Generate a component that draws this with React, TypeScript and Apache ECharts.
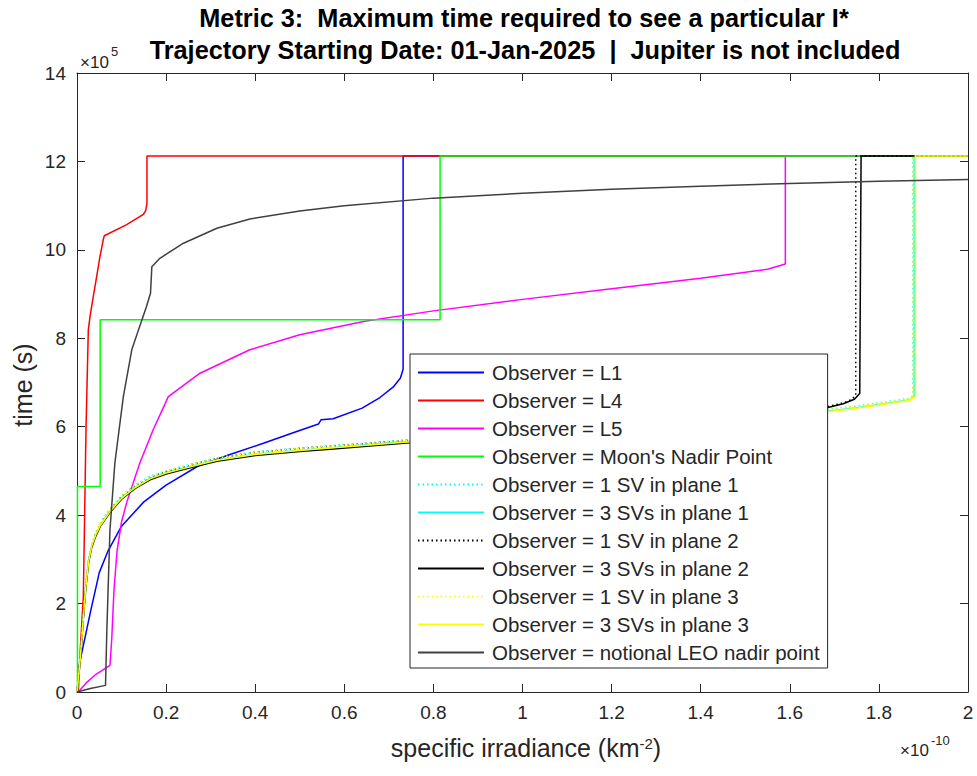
import React, { useEffect, useRef } from 'react';
import * as echarts from 'echarts';

const FONT = '"Liberation Sans", Arial, sans-serif';
const AXIS_COLOR = '#262626';

const xTickLabels = ['0', '0.2', '0.4', '0.6', '0.8', '1', '1.2', '1.4', '1.6', '1.8', '2'];
const yTickLabels = ['0', '2', '4', '6', '8', '10', '12', '14'];

const seriesNames = [
  'Observer = L1',
  'Observer = L4',
  'Observer = L5',
  "Observer = Moon's Nadir Point",
  'Observer = 1 SV in plane 1',
  'Observer = 3 SVs in plane 1',
  'Observer = 1 SV in plane 2',
  'Observer = 3 SVs in plane 2',
  'Observer = 1 SV in plane 3',
  'Observer = 3 SVs in plane 3',
  'Observer = notional LEO nadir point',
];

// x in units of 1e-10 km^-2, y in units of 1e5 s
const dataL1: [number, number][] = [
  [0.002, 0.45], [0.01, 0.85], [0.03, 1.8], [0.05, 2.7], [0.07, 3.2], [0.1, 3.75], [0.15, 4.3],
  [0.2, 4.68], [0.27, 5.1], [0.34, 5.36], [0.42, 5.63], [0.49, 5.88], [0.542, 6.06], [0.548, 6.16],
  [0.575, 6.18], [0.64, 6.42], [0.68, 6.66], [0.71, 6.9], [0.726, 7.1], [0.732, 7.3], [0.732, 12.12], [2, 12.12],
];
const dataL4: [number, number][] = [
  [0.003, 0], [0.007, 0.9], [0.011, 1.6], [0.0142, 2.16], [0.0202, 5.93], [0.0254, 8.19], [0.0292, 8.49],
  [0.0366, 8.95], [0.0442, 9.4], [0.0516, 9.85], [0.059, 10.23], [0.0613, 10.32], [0.1116, 10.57],
  [0.1488, 10.8], [0.154, 10.88], [0.157, 11.05], [0.157, 12.12], [2, 12.12],
];
const dataL5: [number, number][] = [
  [0.003, 0], [0.02, 0.2], [0.04, 0.38], [0.074, 0.6], [0.078, 1.2], [0.083, 2.3], [0.09, 3.2],
  [0.1, 3.85], [0.112, 4.3], [0.141, 5.18], [0.171, 5.93], [0.205, 6.68], [0.276, 7.21], [0.388, 7.74],
  [0.5, 8.08], [0.643, 8.38], [0.8, 8.62], [1.0, 8.88], [1.2, 9.12], [1.4, 9.36], [1.55, 9.56],
  [1.59, 9.68], [1.59, 12.12], [2, 12.12],
];
const dataMoon: [number, number][] = [
  [0.001, 0], [0.001, 4.65], [0.052, 4.65], [0.052, 8.42], [0.815, 8.42], [0.815, 12.12], [2, 12.12],
];
const data1SVp1: [number, number][] = [
  [0, 0], [0.005, 0.55], [0.01, 1.15], [0.015, 1.85], [0.02, 2.45], [0.026, 3.0], [0.033, 3.35],
  [0.042, 3.6], [0.052, 3.82], [0.074, 4.14], [0.1, 4.44], [0.13, 4.68], [0.164, 4.88], [0.2, 5.0],
  [0.25, 5.14], [0.314, 5.3], [0.4, 5.43], [0.5, 5.52], [0.568, 5.57], [0.65, 5.63], [0.747, 5.71],
  [0.85, 5.79], [1.0, 5.9], [1.3, 6.1], [1.6, 6.32], [1.683, 6.39], [1.75, 6.47], [1.82, 6.57],
  [1.868, 6.64], [1.876, 6.7], [1.876, 12.12], [2, 12.12],
];
const data3SVp1: [number, number][] = [
  [0, 0], [0.005, 0.5], [0.01, 1.1], [0.015, 1.8], [0.02, 2.4], [0.026, 2.95], [0.033, 3.3],
  [0.042, 3.55], [0.052, 3.77], [0.074, 4.09], [0.1, 4.39], [0.13, 4.63], [0.164, 4.83], [0.2, 4.96],
  [0.25, 5.09], [0.314, 5.25], [0.4, 5.38], [0.5, 5.47], [0.568, 5.52], [0.65, 5.59], [0.747, 5.67],
  [0.85, 5.75], [1.0, 5.86], [1.3, 6.06], [1.6, 6.28], [1.683, 6.35], [1.75, 6.43], [1.82, 6.53],
  [1.87, 6.61], [1.879, 6.68], [1.879, 12.12], [2, 12.12],
];
const data1SVp2: [number, number][] = [
  [0, 0], [0.005, 0.52], [0.01, 1.12], [0.015, 1.82], [0.02, 2.42], [0.026, 2.97], [0.033, 3.32],
  [0.042, 3.57], [0.052, 3.8], [0.074, 4.12], [0.1, 4.42], [0.13, 4.66], [0.164, 4.86], [0.2, 4.99],
  [0.25, 5.12], [0.314, 5.29], [0.4, 5.42], [0.5, 5.51], [0.568, 5.56], [0.65, 5.62], [0.747, 5.7],
  [0.85, 5.78], [1.0, 5.9], [1.3, 6.1], [1.6, 6.35], [1.683, 6.45], [1.72, 6.54], [1.74, 6.62],
  [1.748, 6.72], [1.748, 12.12], [2, 12.12],
];
const data3SVp2: [number, number][] = [
  [0, 0], [0.005, 0.47], [0.01, 1.07], [0.015, 1.77], [0.02, 2.37], [0.026, 2.92], [0.033, 3.27],
  [0.042, 3.52], [0.052, 3.74], [0.074, 4.06], [0.1, 4.36], [0.13, 4.6], [0.164, 4.8], [0.2, 4.93],
  [0.25, 5.06], [0.314, 5.22], [0.4, 5.35], [0.5, 5.44], [0.568, 5.49], [0.65, 5.56], [0.747, 5.64],
  [0.85, 5.73], [1.0, 5.86], [1.3, 6.08], [1.6, 6.33], [1.683, 6.43], [1.72, 6.52], [1.745, 6.62],
  [1.757, 6.75], [1.76, 12.12], [2, 12.12],
];
const data1SVp3: [number, number][] = [
  [0, 0], [0.005, 0.54], [0.01, 1.14], [0.015, 1.84], [0.02, 2.44], [0.026, 2.99], [0.033, 3.34],
  [0.042, 3.59], [0.052, 3.81], [0.074, 4.13], [0.1, 4.43], [0.13, 4.67], [0.164, 4.87], [0.2, 5.0],
  [0.25, 5.13], [0.314, 5.29], [0.4, 5.42], [0.5, 5.51], [0.568, 5.56], [0.65, 5.62], [0.747, 5.7],
  [0.85, 5.78], [1.0, 5.89], [1.3, 6.09], [1.6, 6.31], [1.683, 6.38], [1.75, 6.46], [1.82, 6.56],
  [1.868, 6.63], [1.877, 6.69], [1.877, 12.12], [2, 12.12],
];
const data3SVp3: [number, number][] = [
  [0, 0], [0.005, 0.5], [0.01, 1.1], [0.015, 1.8], [0.02, 2.4], [0.026, 2.95], [0.033, 3.3],
  [0.042, 3.55], [0.052, 3.76], [0.074, 4.08], [0.1, 4.38], [0.13, 4.62], [0.164, 4.82], [0.2, 4.95],
  [0.25, 5.08], [0.314, 5.24], [0.4, 5.37], [0.5, 5.46], [0.568, 5.52], [0.65, 5.58], [0.747, 5.66],
  [0.85, 5.74], [1.0, 5.85], [1.3, 6.05], [1.6, 6.27], [1.683, 6.34], [1.75, 6.42], [1.82, 6.52],
  [1.87, 6.6], [1.882, 6.68], [1.882, 12.12], [2, 12.12],
];
const dataLEO: [number, number][] = [
  [0, 0], [0.03, 0.08], [0.064, 0.15], [0.067, 1.4], [0.074, 3.67], [0.085, 5.18], [0.104, 6.68],
  [0.123, 7.74], [0.138, 8.19], [0.156, 8.72], [0.165, 9.02], [0.168, 9.62], [0.186, 9.81],
  [0.239, 10.15], [0.314, 10.49], [0.388, 10.7], [0.5, 10.88], [0.6, 11.0], [0.8, 11.17],
  [1.0, 11.28], [1.2, 11.37], [1.4, 11.44], [1.6, 11.5], [1.8, 11.55], [2.0, 11.59],
];

const seriesData = [dataL1, dataL4, dataL5, dataMoon, data1SVp1, data3SVp1, data1SVp2, data3SVp2, data1SVp3, data3SVp3, dataLEO];
const seriesColors = ['#0000ff', '#ff0000', '#ff00ff', '#00ff00', '#00ffff', '#00ffff', '#000000', '#000000', '#ffff00', '#ffff00', '#404040'];
const seriesDotted = [false, false, false, false, true, false, true, false, true, false, false];

export default function App() {
  const ref = useRef<HTMLDivElement>(null);
  useEffect(() => {
    const chart = echarts.init(ref.current!, null, { renderer: 'svg' });
    const axisCommon = {
      type: 'value' as const,
      axisLine: { show: true, onZero: false, lineStyle: { color: AXIS_COLOR, width: 1 } },
      axisTick: { show: true, inside: true, length: 8, lineStyle: { color: AXIS_COLOR, width: 1 } },
      splitLine: { show: false },
    };
    const labelStyle = { fontSize: 19, fontFamily: FONT, color: AXIS_COLOR };
    const option: any = {
      animation: false,
      backgroundColor: '#ffffff',
      grid: { left: 77, top: 73, right: 9, bottom: 84 },
      xAxis: [
        {
          ...axisCommon, min: 0, max: 2, interval: 0.2, position: 'bottom',
          axisLabel: { ...labelStyle, margin: 11, formatter: (v: number) => xTickLabels[Math.round(v / 0.2)] },
        },
        { ...axisCommon, min: 0, max: 2, interval: 0.2, position: 'top', axisLabel: { show: false } },
      ],
      yAxis: [
        {
          ...axisCommon, min: 0, max: 14, interval: 2, position: 'left',
          axisLabel: { ...labelStyle, margin: 11, formatter: (v: number) => yTickLabels[Math.round(v / 2)] },
        },
        { ...axisCommon, min: 0, max: 14, interval: 2, position: 'right', axisLabel: { show: false } },
      ],
      legend: {
        orient: 'vertical',
        left: 410,
        top: 354,
        padding: [8, 8, 5, 7],
        itemWidth: 66,
        itemHeight: 14,
        itemGap: 7,
        backgroundColor: '#ffffff',
        borderColor: AXIS_COLOR,
        borderWidth: 1,
        selectedMode: false,
        itemStyle: { opacity: 0 },
        textStyle: { fontSize: 20.5, fontFamily: FONT, color: AXIS_COLOR, lineHeight: 20, padding: [0, 0, 0, 3] },
        data: seriesNames,
      },
      series: seriesNames.map((name, i) => ({
        type: 'line',
        name,
        data: seriesData[i],
        xAxisIndex: 0,
        yAxisIndex: 0,
        symbol: 'none',
        showSymbol: false,
        silent: true,
        emphasis: { disabled: true },
        color: seriesColors[i],
        lineStyle: { color: seriesColors[i], width: 1.5, type: seriesDotted[i] ? [1.5, 3] : 'solid' },
      })),
      graphic: [
        {
          type: 'text', x: 524, y: 18,
          style: { text: 'Metric 3:  Maximum time required to see a particular I*', fontSize: 25.3, fontWeight: 'bold', fontFamily: FONT, fill: '#000', align: 'center', verticalAlign: 'middle' },
        },
        {
          type: 'text', x: 525, y: 50,
          style: { text: 'Trajectory Starting Date: 01-Jan-2025  |  Jupiter is not included', fontSize: 25.3, fontWeight: 'bold', fontFamily: FONT, fill: '#000', align: 'center', verticalAlign: 'middle' },
        },
        {
          type: 'text', x: 23, y: 385, rotation: Math.PI / 2,
          style: { text: 'time (s)', fontSize: 25, fontFamily: FONT, fill: AXIS_COLOR, align: 'center', verticalAlign: 'middle' },
        },
        {
          type: 'text', x: 526, y: 748,
          style: {
            text: 'specific irradiance (km{sup|-2})', fontSize: 25, fontFamily: FONT, fill: AXIS_COLOR, align: 'center', verticalAlign: 'middle',
            rich: { sup: { fontSize: 15, fontFamily: FONT, fill: AXIS_COLOR, verticalAlign: 'top', lineHeight: 14 } },
          },
        },
        {
          type: 'text', x: 80, y: 62,
          style: { text: '×10', fontSize: 17, fontFamily: FONT, fill: AXIS_COLOR, align: 'left', verticalAlign: 'middle' },
        },
        {
          type: 'text', x: 111, y: 51,
          style: { text: '5', fontSize: 13, fontFamily: FONT, fill: AXIS_COLOR, align: 'left', verticalAlign: 'middle' },
        },
        {
          type: 'text', x: 900, y: 750,
          style: { text: '×10', fontSize: 17, fontFamily: FONT, fill: AXIS_COLOR, align: 'left', verticalAlign: 'middle' },
        },
        {
          type: 'text', x: 931, y: 740,
          style: { text: '-10', fontSize: 13, fontFamily: FONT, fill: AXIS_COLOR, align: 'left', verticalAlign: 'middle' },
        },
      ],
    };
    chart.setOption(option);
    return () => chart.dispose();
  }, []);
  return <div ref={ref} style={{ position: 'absolute', left: 0, top: 0, width: 977, height: 776 }} />;
}
